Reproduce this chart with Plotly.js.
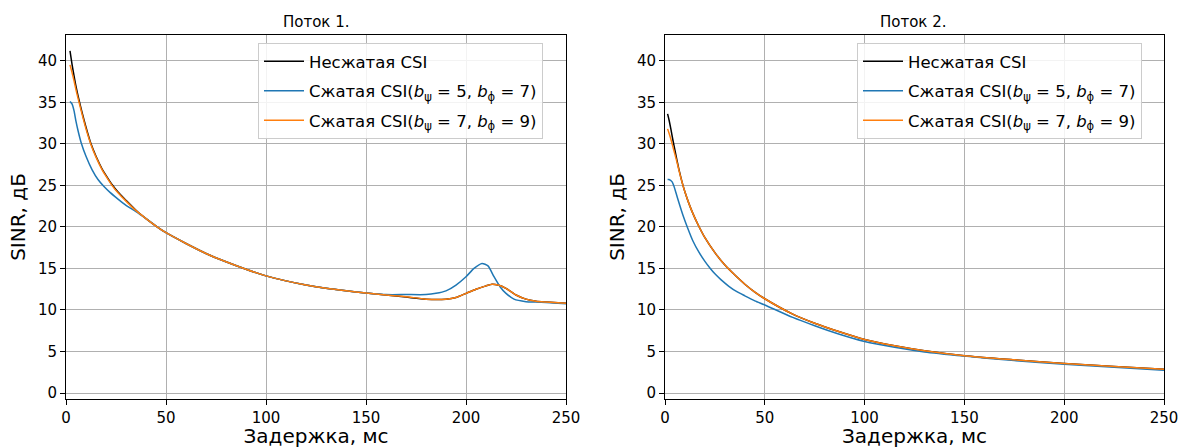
<!DOCTYPE html>
<html>
<head>
<meta charset="utf-8">
<script src="https://cdn.plot.ly/plotly-3.0.1.min.js"></script>
<style>html,body{margin:0;padding:0;background:#fff;}#chart{width:1182px;height:448px;}</style>
</head>
<body>
<div id="chart"></div>
<script>
// Поток 1 (left)
const x1Black = [2,3,4,5,6,8,10,12.5,15,18,20,23,26,30,35,40,45,50,60,70,80,90,100,110,120,130,140,150,160,170,180,190,195,200,205,210,213,216,220,225,230,235,240,250];
const y1Black = [41.2,39.6,38.2,36.9,35.8,33.8,32.0,30,28.5,27,26.2,25.1,24.2,23.2,22,21,20.1,19.3,18.0,16.8,15.8,14.9,14.1,13.5,13.0,12.6,12.3,12.05,11.8,11.55,11.3,11.3,11.5,12.0,12.5,12.9,13.1,13.0,12.6,11.8,11.3,11.05,10.95,10.8];
const x1Blue = [2,3,4,5,6,7.5,10,13,16,19,22,26,30,35,40,45,50,60,70,80,90,100,110,120,130,140,150,160,170,180,185,190,195,200,204,208,211,214,217,220,224,230,235,240,250];
const y1Blue = [35.1,34.8,34.0,32.7,31.6,30.2,28.5,26.9,25.7,24.85,24.15,23.35,22.6,21.85,21,20.1,19.3,18.0,16.8,15.8,14.9,14.1,13.5,13.0,12.6,12.3,12.05,11.85,11.85,11.85,12.0,12.3,13.0,14.0,15.0,15.6,15.3,14.0,12.8,12.0,11.3,11.0,10.95,10.9,10.75];
const x1Orange = [2,3,4,5,6,8,10,12.5,15,18,20,23,26,30,35,40,45,50,60,70,80,90,100,110,120,130,140,150,160,170,180,190,195,200,205,210,213,216,220,225,230,235,240,250];
const y1Orange = [39.5,38.6,37.6,36.5,35.5,33.6,31.8,29.9,28.4,26.9,26.1,25.0,24.1,23.1,21.95,21,20.1,19.3,18.0,16.8,15.8,14.9,14.1,13.5,13.0,12.6,12.3,12.05,11.8,11.6,11.3,11.3,11.5,12.0,12.5,12.9,13.1,13.0,12.6,11.8,11.3,11.05,10.95,10.8];

// Поток 2 (right)
const x2Black = [1.3,2,3,4,5,6,7,8,9,10,12,14,16.7,20,25,30,35,40,45,50,64,75,87,100,115,130,150,175,200,225,250];
const y2Black = [33.6,32.9,31.7,30.4,29.2,28.0,26.9,25.9,25.0,24.2,22.8,21.6,20.2,18.7,16.9,15.4,14.2,13.1,12.15,11.35,9.5,8.4,7.4,6.45,5.7,5.1,4.5,4.0,3.55,3.2,2.85];
const x2Blue = [1.3,2,3.5,4.5,5.5,7,9,11.3,14,17,20,22.5,25,28,32,36,40,45,50,64,75,87,100,115,130,150,175,200,225,250];
const y2Blue = [25.7,25.7,25.45,24.9,24.1,22.9,21.4,19.9,18.3,16.95,15.85,15.05,14.35,13.65,12.85,12.2,11.7,11.1,10.6,9.1,8.1,7.1,6.2,5.5,4.95,4.45,3.9,3.45,3.1,2.75];
const x2Orange = [1.3,2,3,4,5,6,7,8,9,10,12,14,16.7,20,25,30,35,40,45,50,64,75,87,100,115,130,150,175,200,225,250];
const y2Orange = [31.8,31.3,30.5,29.6,28.7,27.8,26.8,25.85,25.0,24.2,22.8,21.6,20.2,18.7,16.9,15.4,14.2,13.1,12.15,11.35,9.5,8.4,7.4,6.45,5.7,5.1,4.5,4.0,3.55,3.2,2.85];

const names = ['Несжатая CSI',
  'Сжатая CSI(<i>b</i><sub>ψ</sub> = 5, <i>b</i><sub>ϕ</sub> = 7)',
  'Сжатая CSI(<i>b</i><sub>ψ</sub> = 7, <i>b</i><sub>ϕ</sub> = 9)'];
const colors = ['#000000', '#1f77b4', '#ff7f0e'];
const panelTitles = ['Поток 1.', 'Поток 2.'];
const xTitle = 'Задержка, мс';
const yTitle = 'SINR, дБ';

function tr(x, y, i, ax, leg) {
  return {x: x, y: y, type: 'scatter', mode: 'lines', name: names[i],
    legendgroup: leg + '_' + i,
    line: {color: colors[i], width: 1.5, shape: 'spline', smoothing: 0.6},
    xaxis: ax === 1 ? 'x' : 'x2', yaxis: ax === 1 ? 'y' : 'y2', legend: leg};
}
const data = [
  tr(x1Black, y1Black, 0, 1, 'legend'),
  tr(x1Blue, y1Blue, 1, 1, 'legend'),
  tr(x1Orange, y1Orange, 2, 1, 'legend'),
  tr(x2Black, y2Black, 0, 2, 'legend2'),
  tr(x2Blue, y2Blue, 1, 2, 'legend2'),
  tr(x2Orange, y2Orange, 2, 2, 'legend2')
];

const W = 1182, H = 448;
const font = {family: 'DejaVu Sans, sans-serif', color: '#000'};
function xax(d, anchor) {
  return {domain: d, anchor: anchor, range: [0, 250], tickvals: [0,50,100,150,200,250],
    showline: true, mirror: true, linecolor: '#000', linewidth: 1,
    ticks: 'outside', ticklen: 5, tickcolor: '#000', tickfont: {size: 15},
    showgrid: true, gridcolor: '#b0b0b0', gridwidth: 1, zeroline: false,
    title: {text: xTitle, font: {size: 20}, standoff: 6}};
}
function yax(anchor) {
  return {domain: [49/H, 1 - 35/H], anchor: anchor, range: [-0.72, 43.1],
    tickvals: [0,5,10,15,20,25,30,35,40],
    showline: true, mirror: true, linecolor: '#000', linewidth: 1,
    ticks: 'outside', ticklen: 5, tickcolor: '#000', tickfont: {size: 15},
    showgrid: true, gridcolor: '#b0b0b0', gridwidth: 1, zeroline: false,
    title: {text: yTitle, font: {size: 20}, standoff: 6}};
}
const legendBase = {bgcolor: 'rgba(255,255,255,0.85)', bordercolor: '#cccccc', borderwidth: 1,
  font: {size: 16.5, family: 'DejaVu Sans, sans-serif', color: '#000'},
  xanchor: 'left', yanchor: 'top', tracegroupgap: 5, itemwidth: 40};

const layout = {
  width: W, height: H, margin: {l: 0, r: 0, t: 0, b: 0},
  paper_bgcolor: '#fff', plot_bgcolor: '#fff', font: font, showlegend: true,
  xaxis: xax([66/W, 566/W], 'y'),
  yaxis: yax('x'),
  xaxis2: xax([665/W, 1164/W], 'y2'),
  yaxis2: yax('x2'),
  legend: Object.assign({x: 258/W, y: 1 - 43/H}, legendBase),
  legend2: Object.assign({x: 857/W, y: 1 - 43/H}, legendBase),
  annotations: [
    {text: panelTitles[0], xref: 'paper', yref: 'paper', x: 316/W, y: 1 - 22/H, showarrow: false, font: {size: 15}, xanchor: 'center', yanchor: 'middle'},
    {text: panelTitles[1], xref: 'paper', yref: 'paper', x: 914/W, y: 1 - 22/H, showarrow: false, font: {size: 15}, xanchor: 'center', yanchor: 'middle'}
  ]
};
Plotly.newPlot('chart', data, layout, {displayModeBar: false, staticPlot: true});
</script>
</body>
</html>
